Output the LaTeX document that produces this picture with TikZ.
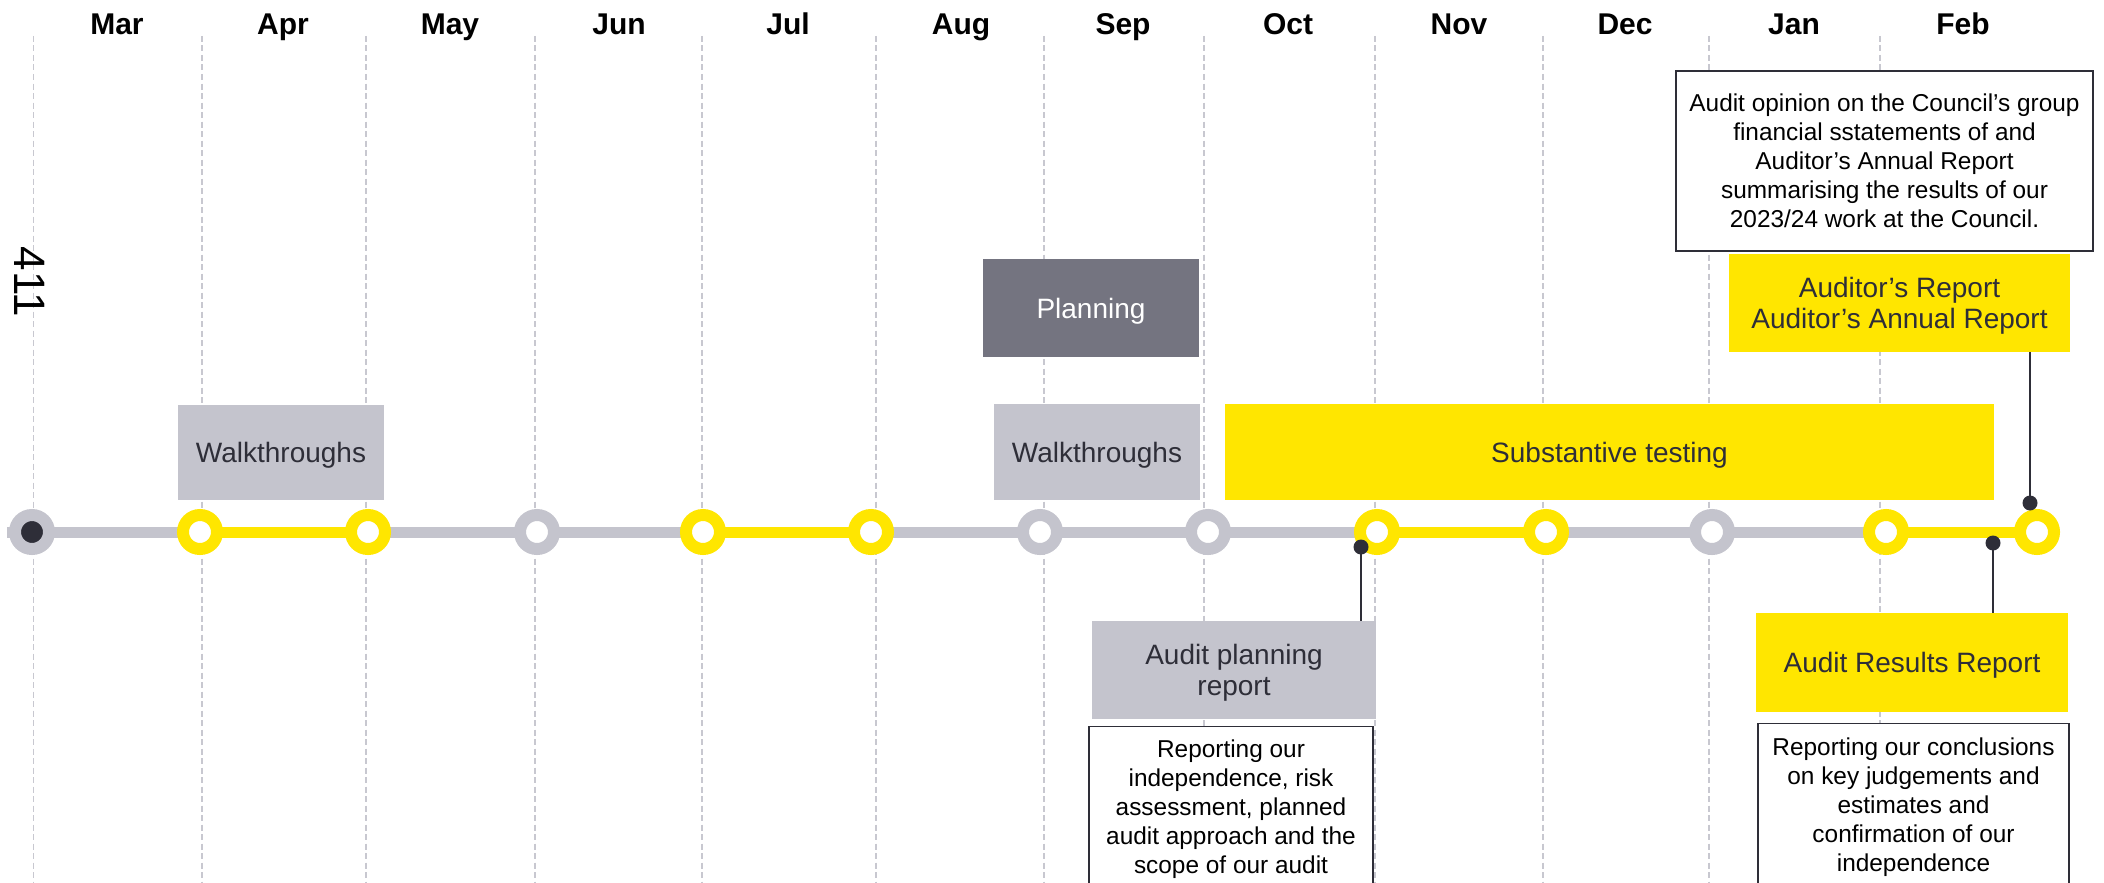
\documentclass[tikz,border=0pt]{standalone}
\usepackage{fontspec}
\setmainfont{Liberation Sans}
\definecolor{eyyellow}{HTML}{FFE600}
\definecolor{eygrey}{HTML}{C4C4CD}
\definecolor{eydark}{HTML}{2E2E38}
\definecolor{eyplan}{HTML}{747480}
\definecolor{gridgrey}{HTML}{C8C8D0}
\tikzset{
  month/.style={anchor=base, font=\bfseries\fontsize{30}{36}\selectfont, text=black},
  phase/.style={rectangle, inner sep=0pt, align=center, text=eydark, text depth=-2pt, font=\fontsize{28}{31}\selectfont},
  greyphase/.style={phase, fill=eygrey},
  yellowphase/.style={phase, fill=eyyellow},
  planphase/.style={phase, fill=eyplan, text=white},
  desc/.style={rectangle, draw=eydark, line width=1.3pt, fill=white, align=center, text=black, font=\fontsize{24.4}{29}\selectfont, inner xsep=0pt},
  ring/.style={circle, minimum size=34pt, inner sep=0pt, line width=12pt, fill=white},
  yring/.style={ring, draw=eyyellow},
  gring/.style={ring, draw=eygrey},
  dot/.style={circle, fill=eydark, minimum size=15pt, inner sep=0pt},
  conn/.style={draw=eydark, line width=2.6pt},
  gridline/.style={draw=gridgrey, line width=1.3pt, dash pattern=on 6pt off 3.5pt},
  track/.style={line width=11pt},
}
\begin{document}
\begin{tikzpicture}[x=1pt,y=-1pt]
\useasboundingbox (0,0) rectangle (2104,883);
\fill[white] (0,0) rectangle (2104,883);
\clip (0,0) rectangle (2104,883);
% month grid
\foreach \gx in {33.5,202,366,535,702,876,1044,1204,1375,1543,1709,1880}
  \draw[gridline] (\gx,36) -- (\gx,883);
% month labels
\foreach \mx/\mn/\nm in {117/Mar/m1,283/Apr/m2,450/May/m3,619/Jun/m4,788/Jul/m5,961/Aug/m6,1123/Sep/m7,1288/Oct/m8,1459/Nov/m9,1625/Dec/m10,1794/Jan/m11,1963/Feb/m12}
  \node[month] (\nm) at (\mx,35) {\mn};
% page number
\node[rotate=-90, font=\fontsize{44}{46}\selectfont, text=black] (pagenum) at (30,282) {411};
% phase boxes
\node[greyphase, minimum width=206pt, minimum height=95pt] (walk1) at (281,452.5) {Walkthroughs};
\node[planphase, minimum width=216pt, minimum height=98pt] (plan) at (1091,308) {Planning};
\node[greyphase, minimum width=206pt, minimum height=96pt] (walk2) at (1097,452) {Walkthroughs};
\node[yellowphase, minimum width=769pt, minimum height=96pt] (subst) at (1609.5,452) {Substantive testing};
\node[yellowphase, minimum width=341pt, minimum height=98pt] (audrep) at (1899.5,303) {Auditor’s Report\\Auditor’s Annual Report};
\node[desc, minimum width=417pt, minimum height=180pt] (opinion) at (1884.5,161) {Audit opinion on the Council’s group\\financial sstatements of and\\Auditor’s Annual Report\\summarising the results of our\\2023/24 work at the Council.};
\node[greyphase, minimum width=284pt, minimum height=98pt] (aplan) at (1234,670) {Audit planning\\report};
\node[desc, anchor=north, minimum width=284pt, inner ysep=13pt] (aplandesc) at (1231,726) {Reporting our\\independence, risk\\assessment, planned\\audit approach and the\\scope of our audit};
\node[yellowphase, minimum width=312pt, minimum height=99pt] (ares) at (1912,662.5) {Audit Results Report};
\node[desc, anchor=north, minimum width=311pt, inner ysep=14.5pt] (aresdesc) at (1913.5,723) {Reporting our conclusions\\on key judgements and\\estimates and\\confirmation of our\\independence};
% timeline
\coordinate (tstart) at (7,532);
\foreach \i/\tx in {0/32,1/200,2/368,3/537,4/703,5/871,6/1040,7/1208,8/1377,9/1546,10/1712,11/1886,12/2037}
  \coordinate (p\i) at (\tx,532);
\draw[track, eygrey] (tstart) -- (p12);
\foreach \a/\b in {1/2,4/5,8/9,11/12}
  \draw[track, eyyellow] (p\a) -- (p\b);
\node[gring, fill=eydark] (t0) at (p0) {};
\foreach \i in {1,2,4,5,8,9,11,12}
  \node[yring] (t\i) at (p\i) {};
\foreach \i in {3,6,7,10}
  \node[gring] (t\i) at (p\i) {};
% report markers
\node[dot] (d1) at (1361,547) {};
\node[dot] (d2) at (1993,543) {};
\node[dot] (d3) at (2030,503) {};
\draw[conn] (d1.center) -- (d1.center |- aplan.north);
\draw[conn] (d2.center) -- (d2.center |- ares.north);
\draw[conn] (d3.center) -- (d3.center |- audrep.south);
\end{tikzpicture}
\end{document}
